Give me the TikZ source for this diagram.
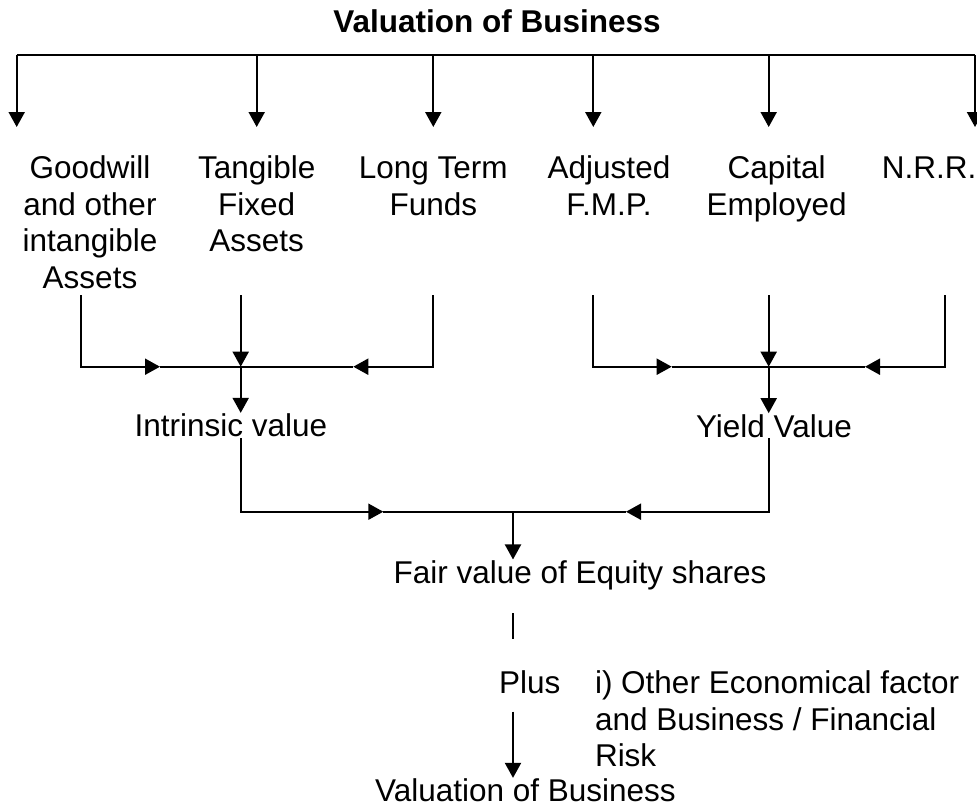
\documentclass[tikz,border=0pt]{standalone}
\usepackage{fontspec}
\setmainfont{Liberation Sans}
\usetikzlibrary{arrows.meta}

\begin{document}
\begin{tikzpicture}[x=1pt,y=-1pt,line width=2pt,>={Triangle[length=15pt,width=16pt]},
	lbl/.style={inner sep=0pt,anchor=base,align=center,font=\fontsize{31.5}{36.7}\selectfont}]
	\useasboundingbox (0,0) rectangle (977,807);

	% heading and the six items under it (base = last line)
	\node[lbl,font=\fontsize{31.5}{36.7}\selectfont\bfseries] (head) at (497,32) {Valuation of Business};
	\node[lbl] (gw) at (90,288.4) {Goodwill\\and other\\intangible\\Assets};
	\node[lbl] (tfa) at (256.7,251.7) {Tangible\\Fixed\\Assets};
	\node[lbl] (ltf) at (433.3,215) {Long Term\\Funds};
	\node[lbl] (fmp) at (609,215) {Adjusted\\F.M.P.};
	\node[lbl] (ce) at (776.7,215) {Capital\\Employed};
	\node[lbl] (nrr) at (929,178.3) {N.R.R.};

	\node[lbl] (iv) at (231,436.7) {Intrinsic value};
	\node[lbl] (yv) at (774,437) {Yield Value};
	\node[lbl] (fv) at (580,583.3) {Fair value of Equity shares};
	\node[lbl,anchor=base west] (plus) at (498,693.3) {Plus};
	\node[lbl,anchor=base west,align=left] (risk) at (594,766.7) {i) Other Economical factor\\and Business / Financial\\Risk};
	\node[lbl] (vb) at (525.5,801.7) {Valuation of Business};

	% top bar
	\coordinate (t1) at (16.7,55);
	\coordinate (t2) at (256.7,55);
	\coordinate (t3) at (433.3,55);
	\coordinate (t4) at (593.3,55);
	\coordinate (t5) at (768.7,55);
	\coordinate (t6) at (975,55);
	\draw (t1) -- (t6);
	\draw[->] (t1) -- ++(0,72);
	\draw[->] (t2) -- ++(0,72);
	\draw[->] (t3) -- ++(0,72);
	\draw[->] (t4) -- ++(0,72);
	\draw[->] (t5) -- ++(0,72);
	\draw[->] (t6) -- ++(0,72);

	% left group -> intrinsic value
	\coordinate (la) at (80.7,295);
	\coordinate (lb) at (240.7,295);
	\coordinate (lc) at (433.3,295);
	\coordinate (lj) at (240.7,366.7);
	\coordinate (lp) at (160,366.7);
	\coordinate (lq) at (353.3,366.7);
	\draw[->] (la) |- (lp);
	\draw (lp) -- (lj);
	\draw[->] (lc) |- (lq);
	\draw (lq) -- (lj);
	\draw[->] (lb) -- (lj);
	\draw[->] (lj) -- (lj |- iv.north);

	% right group -> yield value
	\coordinate (ra) at (593.3,295);
	\coordinate (rb) at (768.7,295);
	\coordinate (rc) at (945,295);
	\coordinate (rj) at (768.7,366.7);
	\coordinate (rp) at (671.7,366.7);
	\coordinate (rq) at (865,366.7);
	\draw[->] (ra) |- (rp);
	\draw (rp) -- (rj);
	\draw[->] (rc) |- (rq);
	\draw (rq) -- (rj);
	\draw[->] (rb) -- (rj);
	\draw[->] (rj) -- (rj |- yv.north);

	% both values -> fair value
	\coordinate (mj) at (513,511.7);
	\coordinate (mp) at (383.3,511.7);
	\coordinate (mq) at (626,511.7);
	\draw[->] (lj |- iv.south) |- (mp);
	\draw (mp) -- (mj);
	\draw[->] (rj |- yv.south) |- (mq);
	\draw (mq) -- (mj);
	\draw[->] (mj) -- (mj |- fv.north);

	% fair value plus other factors
	\coordinate (s1) at (513,613.3);
	\coordinate (s2) at (513,711.7);
	\draw (s1) -- ++(0,26);
	\draw[->] (s2) -- (s2 |- vb.north);
\end{tikzpicture}
\end{document}
